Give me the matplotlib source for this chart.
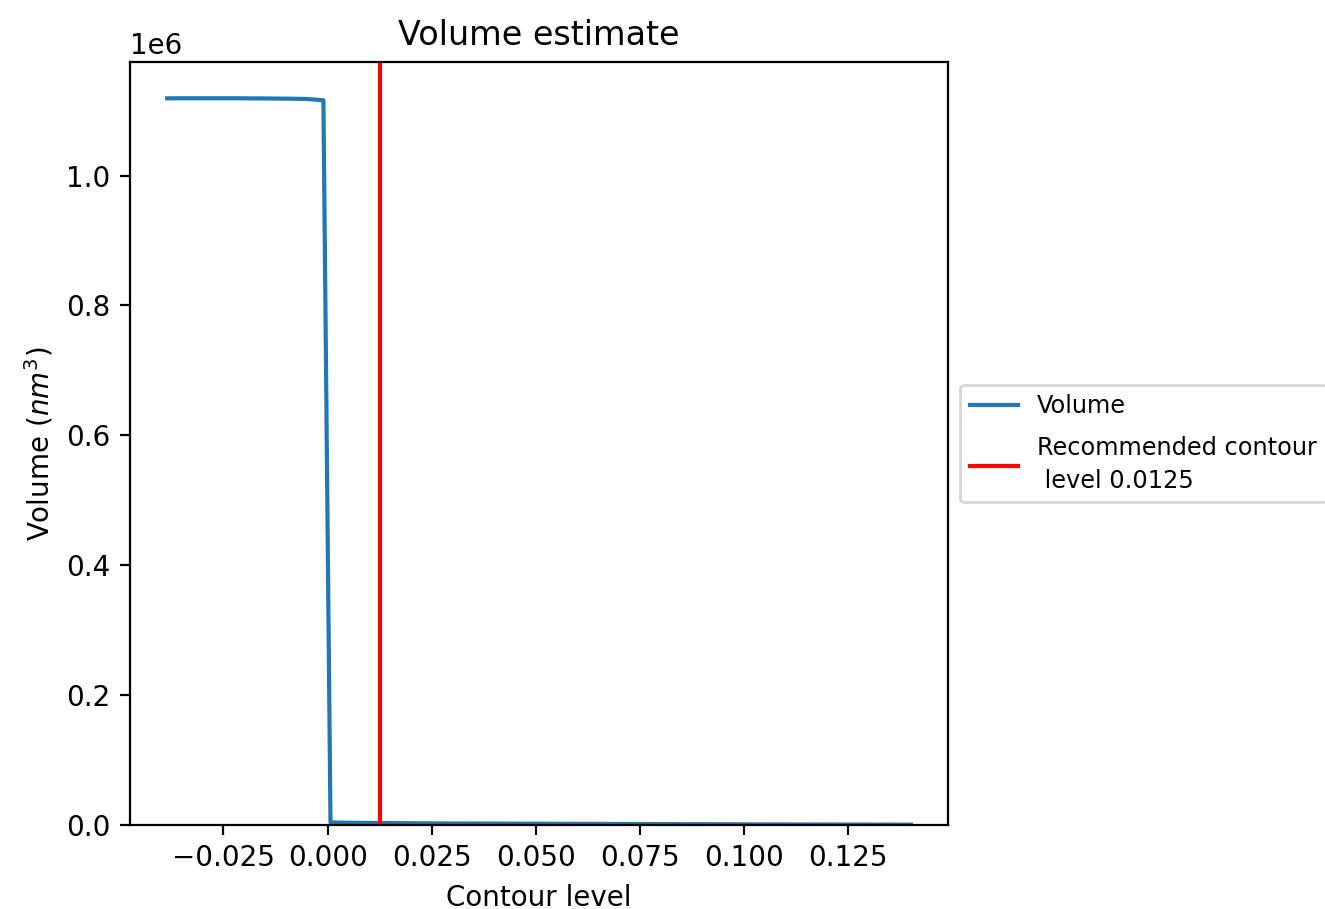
import matplotlib
matplotlib.use('Agg')
import matplotlib.pyplot as plt

# contour levels and the volume estimated at each one
levels = [-0.0385, -0.030, -0.020, -0.010, -0.005, -0.0010, 0.0007,
          0.005, 0.0125, 0.025, 0.050, 0.075, 0.100, 0.125, 0.140]
volumes = [1.119e6, 1.119e6, 1.119e6, 1.1185e6, 1.118e6, 1.116e6, 4000,
           3500, 3000, 2500, 2000, 1500, 1000, 700, 500]
recommended = 0.0125

fig = plt.figure(figsize=(6.625, 4.545), dpi=200)
ax = fig.add_axes([0.0981, 0.0924, 0.6174, 0.8394])

ax.plot(levels, volumes, label='Volume')
ax.axvline(recommended, color='r',
           label='Recommended contour\n level {}'.format(recommended))
ax.set_ylim(bottom=0)
ax.set_title('Volume estimate')
ax.set_xlabel('Contour level')
ax.set_ylabel('Volume ($nm^3$)')
leg = ax.legend(loc='center left', bbox_to_anchor=(1, 0.5), fontsize=8.65,
                labelspacing=0.75)
for t in leg.get_texts():
    t.set_linespacing(1.45)

fig.savefig('out.png', dpi=200)
